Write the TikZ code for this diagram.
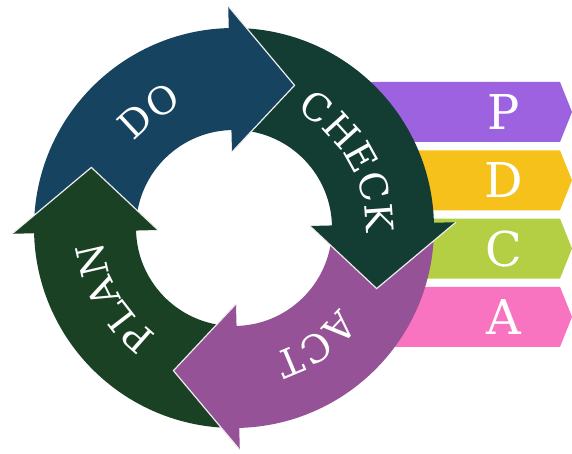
\documentclass[tikz,border=0pt]{standalone}
\usepackage{fontspec}
\newfontfamily\slabfont{DejaVu Serif}
\usetikzlibrary{decorations.text}

\definecolor{doblue}{RGB}{22,68,96}
\definecolor{checkgreen}{RGB}{19,61,50}
\definecolor{actpurple}{RGB}{150,82,150}
\definecolor{plangreen}{RGB}{27,65,37}
\definecolor{tabP}{RGB}{157,98,224}
\definecolor{tabD}{RGB}{246,193,26}
\definecolor{tabC}{RGB}{180,207,67}
\definecolor{tabA}{RGB}{248,116,192}

\newcommand\ringfont{\slabfont\fontsize{38}{40}\selectfont\color{white}}

\tikzset{
tabletter/.style={text=white, font=\slabfont\fontsize{48}{50}\selectfont},
headedge/.style={draw=white!85!gray, line width=1.2pt},
ringtext/.style={decorate, decoration={text along path, text align=center,
text={|\ringfont|#1}}}
}

\begin{document}
\begin{tikzpicture}[x=1pt,y=1pt]
\useasboundingbox (0,0) rectangle (572,454);

% tabs, partly hidden by the ring
\foreach \lbl/\col [count=\i from 0] in {P/tabP,D/tabD,C/tabC,A/tabA}
{
\pgfmathsetmacro{\ty}{342-68.3*\i}
\fill[\col] (340,\ty+30) -- (560,\ty+30) -- (572,\ty) -- (560,\ty-30)
-- (340,\ty-30) -- cycle;
\node[tabletter] (tab\lbl) at (504,\ty) {\lbl};
}

\begin{scope}[shift={(234,226)}]
% ring pieces (tail tucked under the previous head, end under its own head)
\foreach \b/\col in {91.5/doblue,1.5/checkgreen,-88.5/actpurple,181.5/plangreen}
\fill[\col] ({\b+87}:200) arc[start angle=\b+87, end angle=\b-2, radius=200]
-- ({\b-2}:98) arc[start angle=\b-2, end angle=\b+87, radius=98] -- cycle;
% arrow heads
\foreach \b/\col in {91.5/doblue,1.5/checkgreen,-88.5/actpurple,181.5/plangreen}
{
\fill[\col] (\b:76) -- (\b:222) -- ({\b-24.5}:155) -- cycle;
\draw[headedge] (\b:76) -- ({\b-24.5}:155) -- (\b:222);
}
% labels along the ring
\path[ringtext=DO] (166:132) arc[start angle=166, end angle=86, radius=132];
\path[ringtext=CHECK] (70:132) arc[start angle=70, end angle=-10, radius=132];
\path[ringtext=ACT] (-15:132) arc[start angle=-15, end angle=-95, radius=132];
\path[ringtext=PLAN] (-110:132) arc[start angle=-110, end angle=-190, radius=132];
\end{scope}

\end{tikzpicture}
\end{document}
